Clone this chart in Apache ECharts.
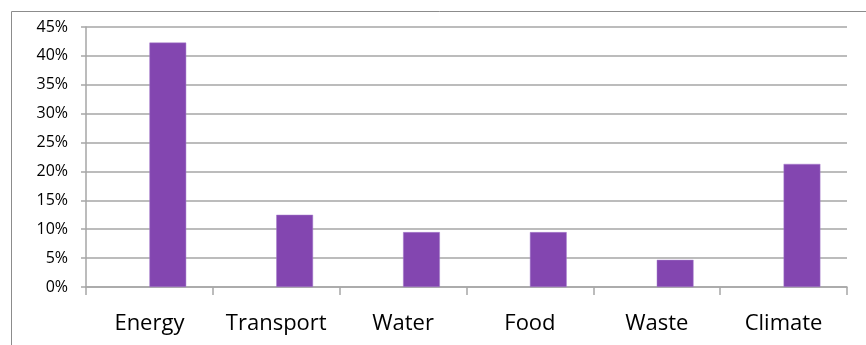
<!DOCTYPE html>
<html><head><meta charset="utf-8">
<script src="https://cdn.jsdelivr.net/npm/echarts@6/dist/echarts.min.js"></script>
<style>html,body{margin:0;padding:0;background:#fff}#c{width:866px;height:345px}</style>
</head><body><div id="c"></div>
<script>
const categories = ['Energy', 'Transport', 'Water', 'Food', 'Waste', 'Climate'];
const values = [42.3, 12.5, 9.5, 9.5, 4.7, 21.3];
const emptySeries = [null, null, null, null, null, null];
const yTicks = [0, 5, 10, 15, 20, 25, 30, 35, 40, 45];

const chart = echarts.init(document.getElementById('c'), null, {renderer: 'canvas'});
chart.setOption({
  animation: false,
  grid: {left: 86, right: 19, top: 27, bottom: 58, containLabel: false},
  graphic: [{
    type: 'rect', shape: {x: 11.5, y: 11.5, width: 900, height: 400},
    style: {fill: 'none', stroke: '#8c8c8c', lineWidth: 1}, silent: true, z: -1
  }],
  xAxis: {
    type: 'category', data: categories,
    axisLine: {lineStyle: {color: '#a6a6a6', width: 1.5}},
    axisTick: {show: true, length: 8, alignWithLabel: false, lineStyle: {color: '#a6a6a6', width: 1.5}},
    axisLabel: {color: '#000', fontSize: 22, fontFamily: '"Open Sans", sans-serif', margin: 26, interval: 0}
  },
  yAxis: {
    type: 'value', min: 0, max: 45, interval: 5,
    axisLine: {show: true, lineStyle: {color: '#a6a6a6', width: 1.5}},
    axisTick: {show: true, length: 5, lineStyle: {color: '#a6a6a6', width: 1.5}},
    splitLine: {lineStyle: {color: '#a6a6a6', width: 1.5}},
    axisLabel: {color: '#000', fontSize: 16, fontFamily: '"Open Sans", sans-serif', margin: 18,
      formatter: v => yTicks.includes(v) ? v + '%' : ''}
  },
  series: [{
    type: 'bar', data: emptySeries, barWidth: '29%', barGap: '0%', silent: true
  }, {
    type: 'bar', data: values, barWidth: '29%', barGap: '0%',
    itemStyle: {color: '#8346b0', borderColor: '#a77fcc', borderWidth: 0.5}
  }]
});
</script></body></html>
